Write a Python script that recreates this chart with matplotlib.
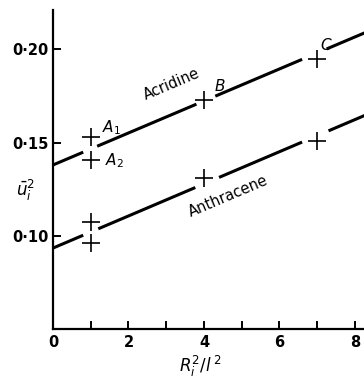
import numpy as np
import matplotlib.pyplot as plt

# measured points (R_i^2/l^2, u_i^2)
acr_x = [1, 1, 4, 7]
acr_y = [0.153, 0.1407, 0.1726, 0.195]
ant_x = [1, 1, 4, 7]
ant_y = [0.1077, 0.096, 0.131, 0.1507]

# fitted lines: intercept, slope, and visible stretches (gaps around crosses)
acr_fit = (0.138, 0.00857)
ant_fit = (0.0935, 0.0086)
acr_pieces = [(0, 0.8), (1.17, 3.8), (4.3, 6.6), (7.25, 8.3)]
ant_pieces = [(0, 0.8), (1.2, 3.77), (4.4, 6.6), (7.3, 8.3)]

yticks = [0.10, 0.15, 0.20]
ytick_labels = ["0·10", "0·15", "0·20"]
xticks = [0, 2, 4, 6, 8]

fig = plt.figure(figsize=(3.64, 3.81), dpi=100)
ax = fig.add_axes([0.1456, 0.1357, 0.8544, 0.8381])

for (b, m), pieces in [(acr_fit, acr_pieces), (ant_fit, ant_pieces)]:
    for x0, x1 in pieces:
        xs = np.array([x0, x1])
        ax.plot(xs, b + m * xs, color="black", lw=2.2, solid_capstyle="butt")

ax.plot(acr_x, acr_y, "+", color="black", ms=13, mew=1.2)
ax.plot(ant_x, ant_y, "+", color="black", ms=13, mew=1.2)

ax.set_xlim(0, 8.24)
ax.set_ylim(0.05, 0.221)
ax.spines["top"].set_visible(False)
ax.spines["right"].set_visible(False)
for s in ["left", "bottom"]:
    ax.spines[s].set_linewidth(1.6)

ax.set_xticks(xticks)
ax.set_xticks([1, 3, 5, 7], minor=True)
ax.set_yticks(yticks)
ax.set_yticklabels(ytick_labels)
ax.tick_params(which="both", direction="in", length=6, width=1.4,
               labelsize=10.5)
ax.tick_params(axis="x", pad=4)
for lab in ax.get_xticklabels() + ax.get_yticklabels():
    lab.set_fontweight("bold")

rot = 23
ax.text(3.15, 0.1815, "Acridine", rotation=rot, ha="center", va="center",
        fontsize=10.5)
ax.text(4.65, 0.1215, "Anthracene", rotation=rot, ha="center", va="center",
        fontsize=10.5)
ax.text(1.55, 0.158, "$A_1$", ha="center", va="center", fontsize=11)
ax.text(1.62, 0.1405, "$A_2$", ha="center", va="center", fontsize=11)
ax.text(4.42, 0.1805, "$B$", ha="center", va="center", fontsize=11)
ax.text(7.25, 0.2025, "$C$", ha="center", va="center", fontsize=11)

fig.text(25 / 364, 1 - 190 / 381, r"$\bar{u}_i^2$", ha="center",
         va="center", fontsize=12)
fig.text(200 / 364, 1 - 366 / 381, r"$R_i^2/l^{\,2}$", ha="center",
         va="center", fontsize=12)

fig.savefig("out.png", dpi=100)
